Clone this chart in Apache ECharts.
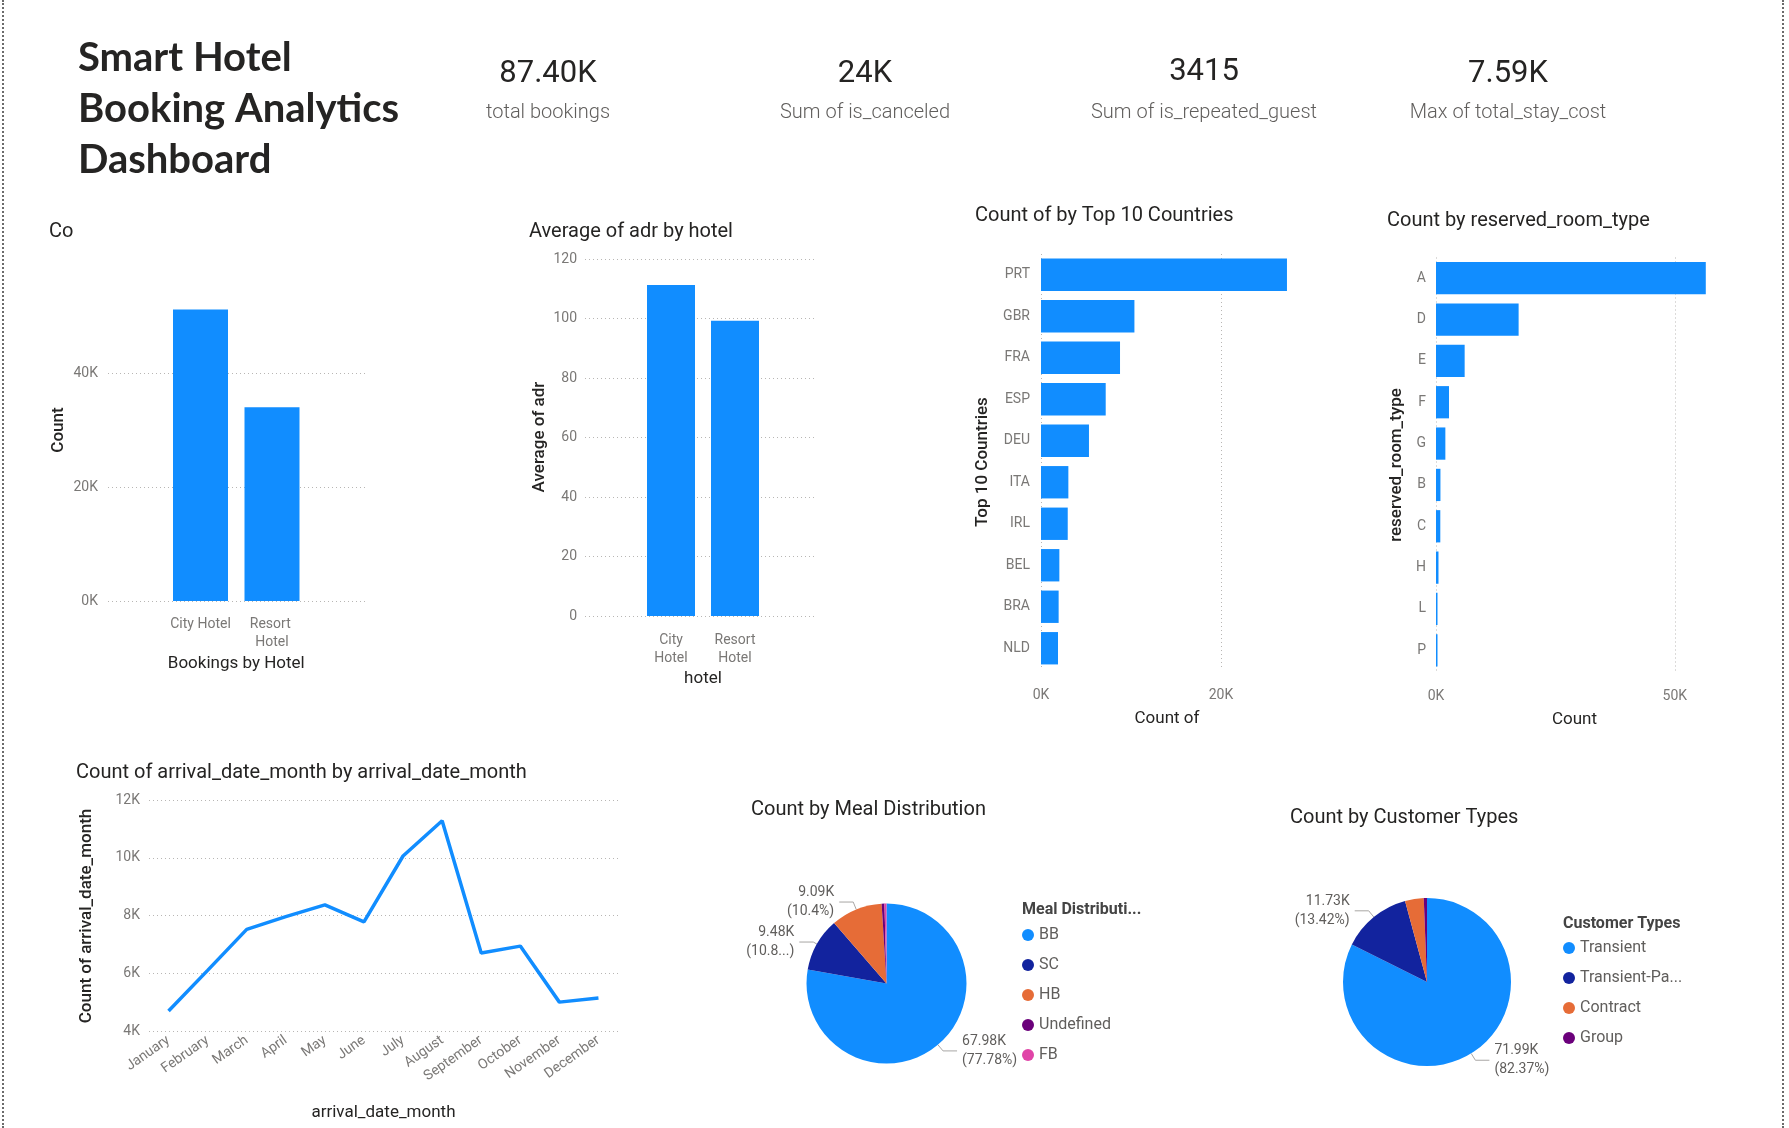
<!DOCTYPE html>
<html>
<head>
<meta charset="utf-8">
<title>Smart Hotel Booking Analytics Dashboard</title>
<script src="https://cdn.jsdelivr.net/npm/echarts@6.0.0/dist/echarts.min.js"></script>
<style>
  html, body { margin: 0; padding: 0; background: #fff; }
  #main { width: 1789px; height: 1128px; position: relative; }
  .edge { position: absolute; top: 0; height: 1128px; width: 0; border-left: 2px dotted #6b6b6b; }
</style>
</head>
<body>
<div id="main"></div>
<div class="edge" style="left:2px"></div>
<div class="edge" style="left:1782px"></div>
<script>
// ---- data ----
const kpiValues = ['87.40K', '24K', '3415', '7.59K'];
const kpiLabels = ['total bookings', 'Sum of is_canceled', 'Sum of is_repeated_guest', 'Max of total_stay_cost'];

const hotels = ['City Hotel', 'Resort Hotel'];
const bookingsByHotel = [51150, 33990];
const adrByHotel = [111.25, 99.25];

const countries = ['PRT', 'GBR', 'FRA', 'ESP', 'DEU', 'ITA', 'IRL', 'BEL', 'BRA', 'NLD'];
const countryCounts = [27330, 10380, 8780, 7190, 5330, 3040, 2970, 2040, 1960, 1890];

const roomTypes = ['A', 'D', 'E', 'F', 'G', 'B', 'C', 'H', 'L', 'P'];
const roomCounts = [56490, 17300, 6000, 2720, 1960, 930, 900, 520, 6, 12];

const months = ['January', 'February', 'March', 'April', 'May', 'June', 'July',
  'August', 'September', 'October', 'November', 'December'];
const monthCounts = [4690, 6100, 7520, 7960, 8370, 7780, 10060, 11280, 6700, 6940, 5000, 5140];

const mealTypes = ['BB', 'SC', 'HB', 'Undefined', 'FB'];
const mealCounts = [67980, 9480, 9090, 490, 360];

const customerTypes = ['Transient', 'Transient-Party', 'Contract', 'Group'];
const customerCounts = [71990, 11730, 3140, 540];

// labels Power BI cut short in the picture
const clippedLabelNames = ['SC'];

// ---- look ----
const palette = ['#118DFF', '#12239E', '#E66C37', '#6B007B', '#E044A7'];
const FONT = 'Roboto, "Noto Sans", sans-serif';
const dark = '#252423';
const gray = '#605e5c';
const tickGray = '#7a7876';
const dots = { type: [1, 3], color: '#b8b6b4', width: 1 };
const gridLine = { show: true, showMaxLine: false, lineStyle: dots };

const kFmt = v => (v / 1000) + 'K';

function tickLabel(extra) {
  return Object.assign({ color: tickGray, fontSize: 14, fontFamily: FONT }, extra || {});
}
function axisName() {
  return { color: dark, fontSize: 17, fontFamily: FONT };
}
function text(str, x, y, font, fill, align) {
  return {
    type: 'text', x: x, y: y, silent: true,
    style: { text: str, font: font, fill: fill, align: align || 'left', verticalAlign: 'middle' }
  };
}
function sideName(str, x, y) {
  const t = text(str, x, y, '500 17px ' + FONT, dark, 'center');
  t.rotation = Math.PI / 2;
  return t;
}

function pieLabel(p) {
  let pct = parseFloat(p.percent.toFixed(2)).toString();
  if (clippedLabelNames.indexOf(p.name) >= 0) pct = pct.slice(0, 4) + '...';
  else pct = pct + '%';
  return (p.value / 1000).toFixed(2) + 'K\n(' + pct + ')';
}
function pieData(names, values) {
  const total = values.reduce((a, b) => a + b, 0);
  return names.map((n, i) => {
    const big = values[i] / total > 0.05;
    return { name: n, value: values[i], label: { show: big }, labelLine: { show: big } };
  });
}

const chart = echarts.init(document.getElementById('main'), null, { renderer: 'canvas' });

const titleFont = '20px ' + FONT;
const graphics = [
  {
    type: 'text', x: 78, y: 33, silent: true,
    style: { text: 'Smart Hotel\nBooking Analytics\nDashboard', font: 'bold 40px Lato, "Noto Sans", sans-serif',
      fill: dark, lineHeight: 51, verticalAlign: 'top' }
  },
  text('Co', 49, 232, titleFont, dark),
  text('Average of adr by hotel', 529, 232, titleFont, dark),
  text('Count of by Top 10 Countries', 975, 216, titleFont, dark),
  text('Count by reserved_room_type', 1387, 221, titleFont, dark),
  text('Count of arrival_date_month by arrival_date_month', 76, 773, titleFont, dark),
  text('Count by Meal Distribution', 751, 810, titleFont, dark),
  text('Count by Customer Types', 1290, 818, titleFont, dark),
  text('Meal Distributi...', 1022, 910, 'bold 16px ' + FONT, '#444'),
  text('Customer Types', 1563, 924, 'bold 16px ' + FONT, '#444'),
  sideName('Count', 59, 430),
  sideName('Average of adr', 540, 437),
  sideName('Top 10 Countries', 983, 462),
  sideName('reserved_room_type', 1397, 465),
  sideName('Count of arrival_date_month', 87, 916)
];
const kpiX = [548, 865, 1204, 1508];
const kpiY = [74, 74, 72, 74];
kpiValues.forEach((v, i) => {
  graphics.push(text(v, kpiX[i], kpiY[i], '31px ' + FONT, dark, 'center'));
  graphics.push(text(kpiLabels[i], kpiX[i], 113, '300 20px ' + FONT, gray, 'center'));
});

const hidden = { axisLine: { show: false }, axisTick: { show: false } };

const option = {
  animation: false,
  textStyle: { fontFamily: FONT },
  graphic: graphics,
  grid: [
    { left: 108, top: 287.5, width: 257, height: 313.5 },
    { left: 164.75, top: 287.5, width: 143, height: 313.5 },
    { left: 585, top: 259, width: 232, height: 357 },
    { left: 639, top: 259, width: 128, height: 357 },
    { left: 1041, top: 254, width: 252, height: 415 },
    { left: 1436, top: 257.5, width: 277, height: 413.5 },
    { left: 149, top: 800, width: 469, height: 231 }
  ],
  xAxis: [
    { gridIndex: 0, type: 'category', data: hotels, show: false },
    Object.assign({
      gridIndex: 1, type: 'category', data: hotels,
      axisLabel: tickLabel({ interval: 0, width: 72, overflow: 'break', lineHeight: 18, margin: 14 }),
      name: 'Bookings by Hotel', nameLocation: 'middle', nameGap: 54, nameTextStyle: axisName()
    }, hidden),
    { gridIndex: 2, type: 'category', data: hotels, show: false },
    Object.assign({
      gridIndex: 3, type: 'category', data: hotels,
      axisLabel: tickLabel({ interval: 0, lineHeight: 18, margin: 15, formatter: n => n.split(' ').join('\n') }),
      name: 'hotel', nameLocation: 'middle', nameGap: 54, nameTextStyle: axisName()
    }, hidden),
    Object.assign({
      gridIndex: 4, type: 'value', min: 0, max: 28000, interval: 20000,
      splitLine: gridLine,
      axisLabel: tickLabel({ formatter: kFmt, showMaxLabel: false, margin: 19 }),
      name: 'Count of', nameLocation: 'middle', nameGap: 41, nameTextStyle: axisName()
    }, hidden),
    Object.assign({
      gridIndex: 5, type: 'value', min: 0, max: 58000, interval: 50000,
      splitLine: gridLine,
      axisLabel: tickLabel({ formatter: kFmt, showMaxLabel: false, margin: 18 }),
      name: 'Count', nameLocation: 'middle', nameGap: 40, nameTextStyle: axisName()
    }, hidden),
    Object.assign({
      gridIndex: 6, type: 'category', data: months, boundaryGap: true,
      axisLabel: tickLabel({ interval: 0, rotate: 35, margin: 8 }),
      name: 'arrival_date_month', nameLocation: 'middle', nameGap: 73, nameTextStyle: axisName()
    }, hidden)
  ],
  yAxis: [
    Object.assign({
      gridIndex: 0, type: 'value', min: 0, max: 55000, interval: 20000,
      splitLine: gridLine,
      axisLabel: tickLabel({ formatter: kFmt, showMaxLabel: false, margin: 10 })
    }, hidden),
    { gridIndex: 1, type: 'value', min: 0, max: 55000, show: false, splitLine: { show: false } },
    Object.assign({
      gridIndex: 2, type: 'value', min: 0, max: 120, interval: 20,
      splitLine: { show: true, lineStyle: dots },
      axisLabel: tickLabel({ margin: 8 })
    }, hidden),
    { gridIndex: 3, type: 'value', min: 0, max: 120, show: false, splitLine: { show: false } },
    Object.assign({
      gridIndex: 4, type: 'category', data: countries, inverse: true,
      axisLabel: tickLabel({ margin: 11 })
    }, hidden),
    Object.assign({
      gridIndex: 5, type: 'category', data: roomTypes, inverse: true,
      axisLabel: tickLabel({ margin: 10 })
    }, hidden),
    Object.assign({
      gridIndex: 6, type: 'value', min: 4000, max: 12000, interval: 2000,
      splitLine: { show: true, lineStyle: dots },
      axisLabel: tickLabel({ formatter: kFmt, margin: 9 })
    }, hidden)
  ],
  legend: [
    {
      data: mealTypes, orient: 'vertical', left: 1022, top: 927, padding: 0,
      icon: 'circle', itemWidth: 12, itemHeight: 12, itemGap: 14, selectedMode: false,
      textStyle: { color: gray, fontSize: 16, lineHeight: 16, fontFamily: FONT }
    },
    {
      data: customerTypes, orient: 'vertical', left: 1563, top: 940, padding: 0,
      icon: 'circle', itemWidth: 12, itemHeight: 12, itemGap: 14, selectedMode: false,
      formatter: n => (n.length > 12 ? n.slice(0, 12) + '...' : n),
      textStyle: { color: gray, fontSize: 16, lineHeight: 16, fontFamily: FONT }
    }
  ],
  series: [
    {
      type: 'bar', xAxisIndex: 1, yAxisIndex: 1, data: bookingsByHotel,
      barWidth: 55, itemStyle: { color: palette[0] }
    },
    {
      type: 'bar', xAxisIndex: 3, yAxisIndex: 3, data: adrByHotel,
      barWidth: 48, itemStyle: { color: palette[0] }
    },
    {
      type: 'bar', xAxisIndex: 4, yAxisIndex: 4, data: countryCounts,
      barCategoryGap: '22%', itemStyle: { color: palette[0] }
    },
    {
      type: 'bar', xAxisIndex: 5, yAxisIndex: 5, data: roomCounts,
      barCategoryGap: '22%', barMinHeight: 1.5, itemStyle: { color: palette[0] }
    },
    {
      type: 'line', xAxisIndex: 6, yAxisIndex: 6, data: monthCounts,
      showSymbol: false, lineStyle: { width: 3.5, color: palette[0] }, itemStyle: { color: palette[0] }
    },
    {
      type: 'pie', center: [886.5, 983.5], radius: 80, startAngle: 90, clockwise: true,
      color: palette, data: pieData(mealTypes, mealCounts),
      label: { formatter: pieLabel, color: gray, fontSize: 14, lineHeight: 19, fontFamily: FONT },
      labelLine: { length: 8, length2: 14, lineStyle: { color: '#a8a6a4', width: 1 } },
      emphasis: { disabled: true }
    },
    {
      type: 'pie', center: [1427, 982], radius: 84, startAngle: 90, clockwise: true,
      color: palette, data: pieData(customerTypes, customerCounts),
      label: { formatter: pieLabel, color: gray, fontSize: 14, lineHeight: 19, fontFamily: FONT },
      labelLine: { length: 8, length2: 14, lineStyle: { color: '#a8a6a4', width: 1 } },
      emphasis: { disabled: true }
    }
  ]
};

chart.setOption(option);
</script>
</body>
</html>
